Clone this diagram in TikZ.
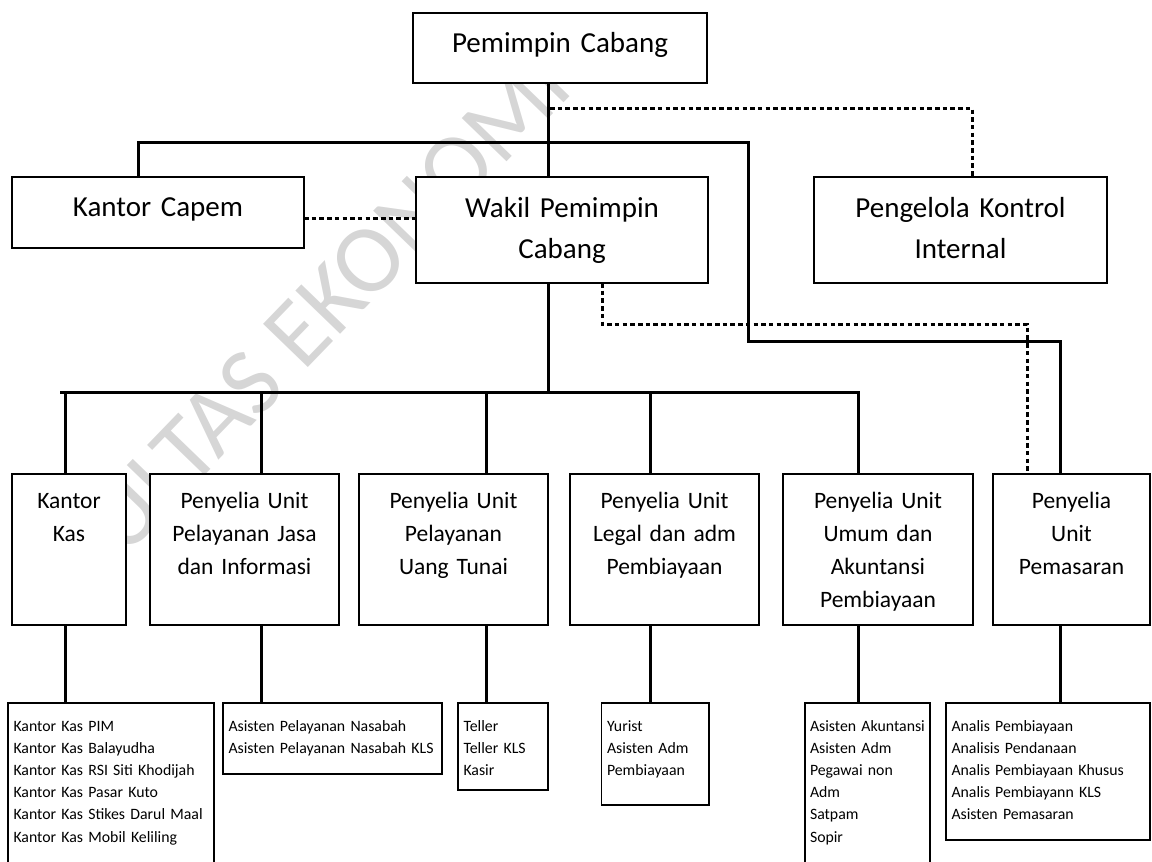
\documentclass[tikz,border=0pt]{standalone}
\usepackage{fontspec}
\setmainfont{Carlito}
\begin{document}
\begin{tikzpicture}[x=1pt,y=-1pt,
  box/.style={draw, line width=1.3pt, fill=white, inner sep=0pt, outer sep=0pt, anchor=north west},
  big/.style={box, align=center, font=\fontsize{29}{41}\selectfont},
  mid/.style={box, align=center, font=\fontsize{23.5}{33.3}\selectfont, text height=34pt, text depth=117pt},
  lst/.style={box, align=left, inner xsep=5.5pt, font=\fontsize{15.8}{22.2}\selectfont, text height=28pt},
  conn/.style={line width=3pt},
  dots/.style={line width=3pt, dash pattern=on 4.5pt off 3.2pt},
  wmark/.style={text=black!16, font=\fontsize{97}{97}\selectfont, rotate=46, anchor=base west, inner sep=0pt}
]
\useasboundingbox (0,0) rectangle (1152,862);
\clip (0,0) rectangle (1152,862);
\begin{scope}
  \clip (102,0) rectangle (1152,700);
  \node[wmark] (wm) at (24,662) {FAKULTAS EKONOMI};
\end{scope}

% top level
\node[big, text width=294pt, text height=39pt, text depth=31pt] (pc) at (413,13) {Pemimpin Cabang};
\node[big, text width=292pt, text height=39pt, text depth=32pt] (kc) at (12,177) {Kantor Capem};
\node[big, text width=292pt, text height=40pt, text depth=66pt] (wpc) at (416,177) {Wakil Pemimpin\\Cabang};
\node[big, text width=293pt, text height=40pt, text depth=66pt] (pki) at (814,177) {Pengelola Kontrol\\Internal};

% middle row
\node[mid, text width=114pt] (kk) at (12,474) {Kantor\\Kas};
\node[mid, text width=189pt] (pj) at (150,474) {Penyelia Unit\\Pelayanan Jasa\\dan Informasi};
\node[mid, text width=189pt] (ut) at (359,474) {Penyelia Unit\\Pelayanan\\Uang Tunai};
\node[mid, text width=189pt] (lg) at (570,474) {Penyelia Unit\\Legal dan adm\\Pembiayaan};
\node[mid, text width=190pt] (ua) at (783,474) {Penyelia Unit\\Umum dan\\Akuntansi\\Pembiayaan};
\node[mid, text width=157pt] (pm) at (993,474) {Penyelia\\Unit\\Pemasaran};

% bottom lists
\node[lst, text width=195pt, text depth=170pt] (l1) at (8,703) {Kantor Kas PIM\\Kantor Kas Balayudha\\Kantor Kas RSI Siti Khodijah\\Kantor Kas Pasar Kuto\\Kantor Kas Stikes Darul Maal\\Kantor Kas Mobil Keliling};
\node[lst, text width=208pt, text depth=43pt] (l2) at (223,703) {Asisten Pelayanan Nasabah\\Asisten Pelayanan Nasabah KLS};
\node[lst, text width=79pt, text depth=59pt] (l3) at (458,703) {Teller\\Teller KLS\\Kasir};
\node[lst, text width=96.5pt, text depth=74pt] (l4) at (601.5,703) {Yurist\\Asisten Adm\\Pembiayaan};
\node[lst, inner xsep=5pt, text width=115pt, text depth=170pt] (l5) at (805,703) {\mbox{Asisten Akuntansi}\\Asisten Adm\\Pegawai non\\Adm\\Satpam\\Sopir};
\node[lst, text width=193pt, text depth=109pt] (l6) at (946,703) {Analis Pembiayaan\\Analisis Pendanaan\\Analis Pembiayaan Khusus\\Analis Pembiayann KLS\\Asisten Pemasaran};

% solid connectors
\coordinate (tb1) at (138,142);
\coordinate (tb2) at (748,142);
\coordinate (tb3) at (748,341);
\coordinate (tb4) at (1060,341);
\coordinate (cx) at (548,142);
\coordinate (rl) at (60,392);
\coordinate (rr) at (858,392);
\draw[conn] (tb1 |- kc.north) -- (tb1) -- (tb2) -- (tb3) -- (tb4) -- (tb4 |- pm.north);
\draw[conn] (cx |- pc.south) -- (cx |- wpc.north);
\draw[conn] (cx |- wpc.south) -- (cx |- rl);
\draw[conn] (rl) -- (rr) -- (rr |- ua.north);
\foreach \xx/\nn in {65/kk,261/pj,486.5/ut,650/lg}{
  \coordinate (v\nn) at (\xx,392);
  \draw[conn] (v\nn) -- (v\nn |- \nn.north);
}
\foreach \xx/\aa/\bb in {65/kk/l1,261/pj/l2,486.5/ut/l3,650/lg/l4,858/ua/l5,1060/pm/l6}{
  \coordinate (w\aa) at (\xx,625);
  \draw[conn] (w\aa |- \aa.south) -- (w\aa |- \bb.north);
}

% dotted connectors
\coordinate (d1) at (550,108);
\coordinate (d2) at (972,108);
\coordinate (dc) at (0,218);
\coordinate (d3) at (602,324);
\coordinate (d4) at (1027,324);
\draw[dots] (d1) -- (d2) -- (d2 |- pki.north);
\draw[dots] (kc.east |- dc) -- (wpc.west |- dc);
\draw[dots] (d3 |- wpc.south) -- (d3) -- (d4) -- (d4 |- pm.north);
\end{tikzpicture}
\end{document}
